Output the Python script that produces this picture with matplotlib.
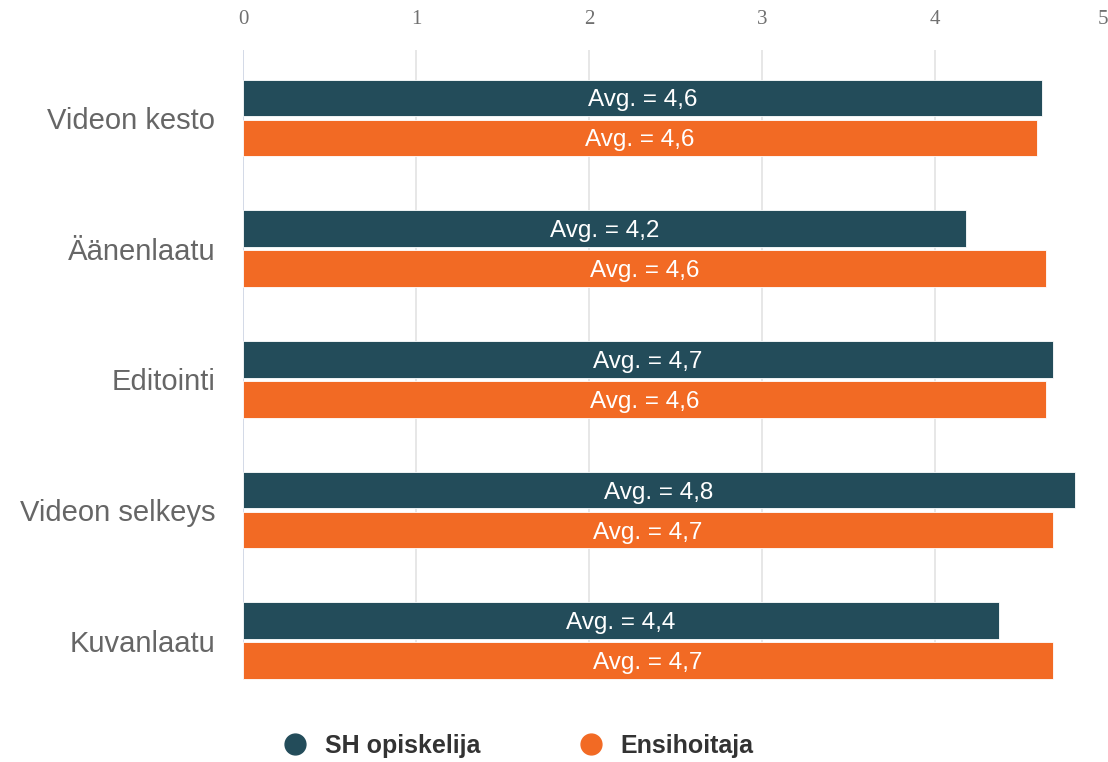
import matplotlib.pyplot as plt
import numpy as np

# data
categories = ["Videon kesto", "Äänenlaatu", "Editointi", "Videon selkeys", "Kuvanlaatu"]
sh_opiskelija = [4.62, 4.18, 4.68, 4.81, 4.37]
ensihoitaja = [4.59, 4.64, 4.64, 4.68, 4.68]
series_names = ["SH opiskelija", "Ensihoitaja"]
x_ticks = [0, 1, 2, 3, 4, 5]

dark = "#234c5a"
orange = "#f26a24"

fig = plt.figure(figsize=(11.08, 7.62), dpi=100)
ax = fig.add_axes([243 / 1108, 1 - 680 / 762, 1 - 243 / 1108, (680 - 50) / 762])

y = np.arange(len(categories))
h = 0.28
off = 0.153

ax.barh(y - off, sh_opiskelija, height=h, color=dark, edgecolor="white", linewidth=0.6, zorder=3)
ax.barh(y + off, ensihoitaja, height=h, color=orange, edgecolor="white", linewidth=0.6, zorder=3)

# value labels in the middle of the bars
for vals, ys in [(sh_opiskelija, y - off), (ensihoitaja, y + off)]:
    for v, yy in zip(vals, ys):
        txt = "Avg. = " + f"{v:.1f}".replace(".", ",")
        ax.text(v / 2, yy, txt, ha="center", va="center_baseline", color="white",
                fontsize=17.5, family="Liberation Sans", zorder=4)

ax.set_xlim(0, 5)
ax.set_ylim(len(categories) - 1 + 0.30, -0.52)

ax.set_yticks(y)
ax.set_yticklabels(categories, fontsize=21, family="Liberation Sans", color="#666666")
ax.tick_params(axis="y", length=0, pad=20)

ax.xaxis.tick_top()
ax.set_xticks(x_ticks)
ax.set_xticklabels([str(t) for t in x_ticks], fontsize=15, family="Liberation Serif", color="#707070")
ax.tick_params(axis="x", length=0, pad=15)
ax.get_xticklabels()[-1].set_ha("right")

for t in x_ticks[1:-1]:
    ax.axvline(t, color="#e3e3e3", linewidth=1.2, zorder=1)
ax.axvline(0, color="#ccd3e3", linewidth=1.2, zorder=1)

for s in ax.spines.values():
    s.set_visible(False)

handles = [
    plt.Line2D([], [], marker="o", linestyle="", markersize=15, color=dark),
    plt.Line2D([], [], marker="o", linestyle="", markersize=15, color=orange),
]
leg = fig.legend(handles, series_names, loc="center", bbox_to_anchor=(512 / 1108, 1 - 746 / 762),
                 ncol=2, frameon=False, handletextpad=0.2, columnspacing=3.4,
                 prop={"family": "Liberation Sans", "weight": "bold", "size": 18})
for t in leg.get_texts():
    t.set_color("#333333")

fig.savefig("out.png", dpi=100)
